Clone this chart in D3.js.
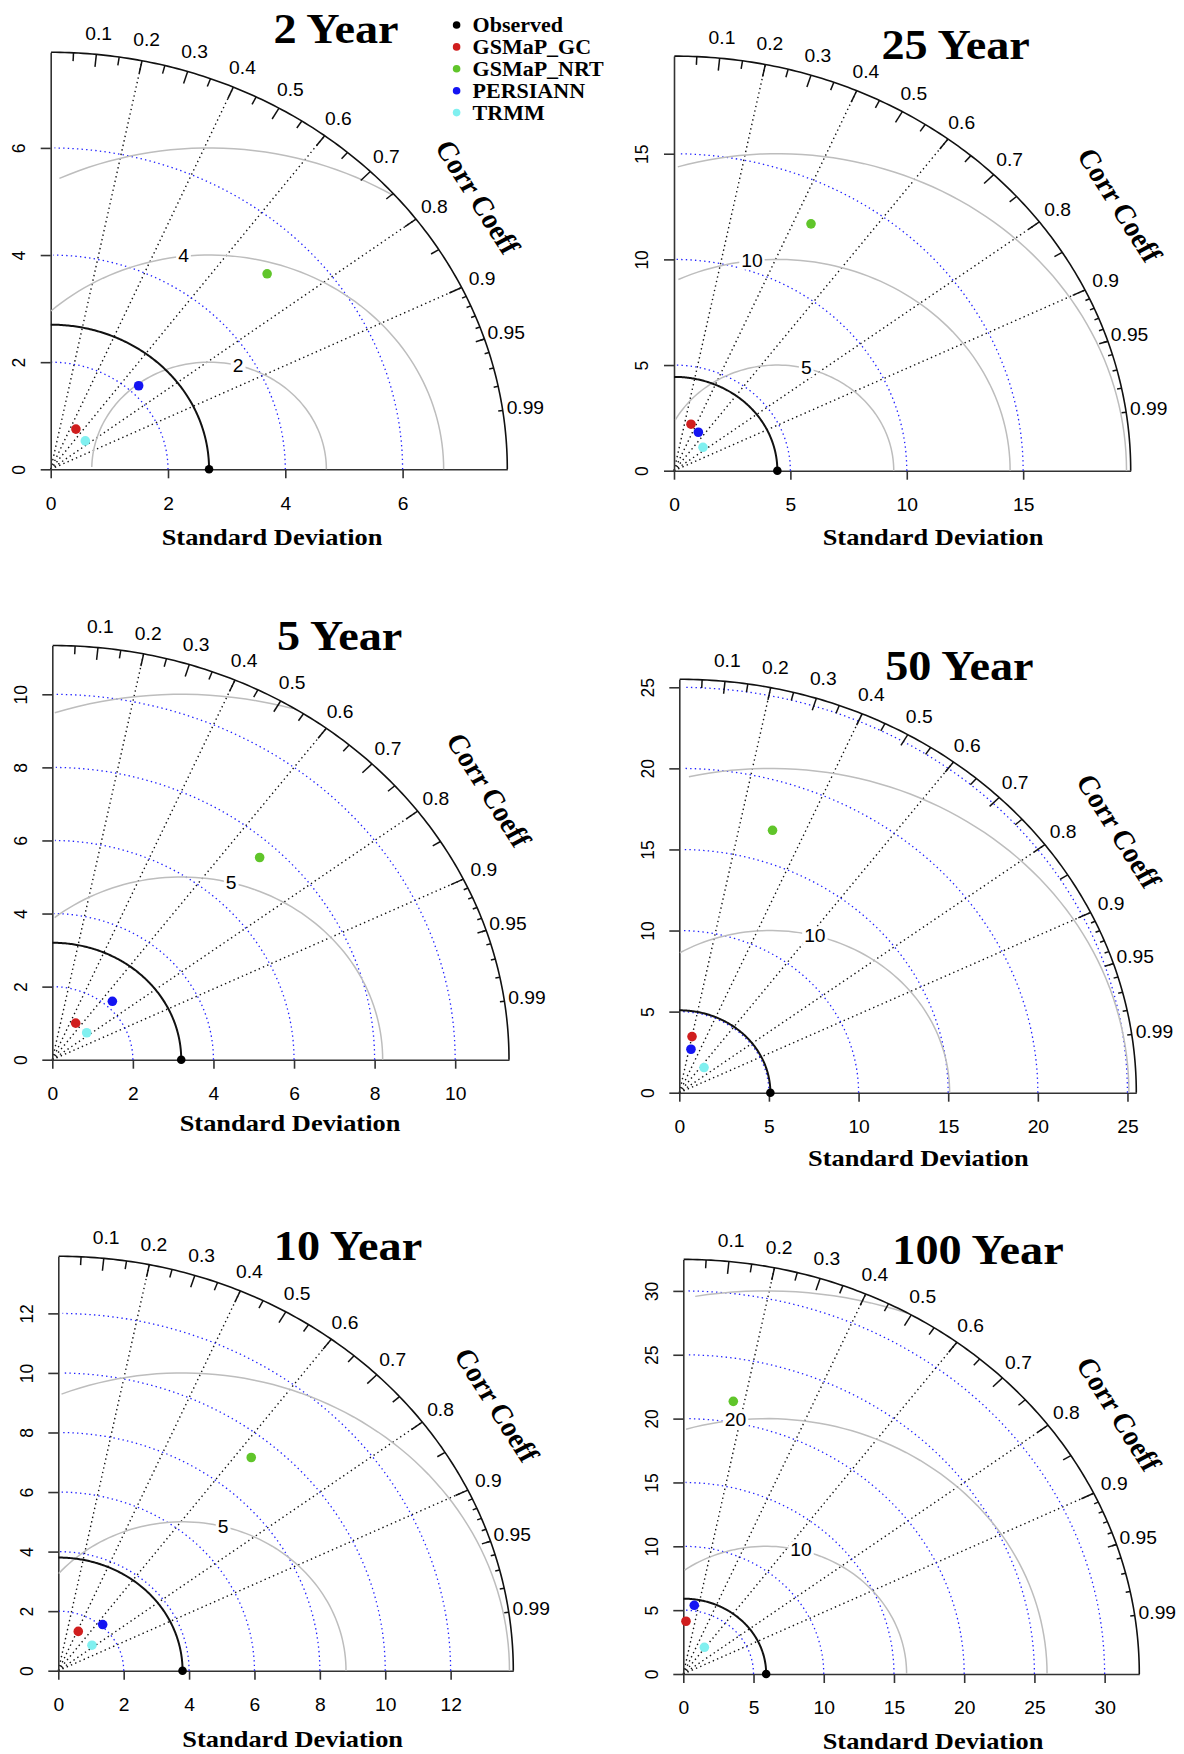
<!DOCTYPE html>
<html>
<head>
<meta charset="utf-8">
<script src="https://cdnjs.cloudflare.com/ajax/libs/d3/7.8.5/d3.min.js"></script>
<style>
  body { margin: 0; background: #fff; }
  svg { display: block; }
  .serif { font-family: "Liberation Serif", "Times New Roman", serif; font-weight: bold; }
  .sans { font-family: "Liberation Sans", Arial, sans-serif; }
</style>
</head>
<body>
<div id="chart"></div>
<script>
// one Taylor diagram per return period
var periods = ["2 Year", "25 Year", "5 Year", "50 Year", "10 Year", "100 Year"];

// reference (observed) standard deviation
var obsSD = [2.70, 4.44, 3.20, 5.08, 3.80, 5.90];

// products: standard deviation and correlation with observed
var gcSD = [0.865, 2.318, 1.156, 3.532, 1.454, 4.134];
var gcCor = [0.497, 0.315, 0.502, 0.201, 0.420, 0.046];
var nrtSD = [5.19, 13.08, 7.557, 16.995, 9.278, 21.645];
var nrtCor = [0.711, 0.450, 0.681, 0.306, 0.636, 0.1645];
var persSD = [2.164, 2.099, 2.186, 2.758, 2.060, 5.436];
var persCor = [0.693, 0.498, 0.682, 0.236, 0.659, 0.1435];
var trmmSD = [0.793, 1.667, 1.128, 2.075, 1.339, 2.573];
var trmmCor = [0.744, 0.747, 0.757, 0.665, 0.769, 0.583];

var seriesNames = ["Observed", "GSMaP_GC", "GSMaP_NRT", "PERSIANN", "TRMM"];

// axis ticks (sd) and centred RMS levels for each panel
var sdTicks = [[0, 2, 4, 6], [0, 5, 10, 15], [0, 2, 4, 6, 8, 10],
               [0, 5, 10, 15, 20, 25], [0, 2, 4, 6, 8, 10, 12], [0, 5, 10, 15, 20, 25, 30]];
var rmsLevels = [[2, 4, 6], [5, 10, 15], [5, 10], [10, 20], [5, 10], [10, 20, 30]];

// correlation scale on the outer arc
var corrLabels = [0.1, 0.2, 0.3, 0.4, 0.5, 0.6, 0.7, 0.8, 0.9, 0.95, 0.99];
var corrLines = [0.2, 0.4, 0.6, 0.8, 0.9];
var bigTicks = [0.1, 0.2, 0.3, 0.4, 0.5, 0.6, 0.7, 0.8, 0.9];
var medTicks = [0.05, 0.15, 0.25, 0.35, 0.45, 0.55, 0.65, 0.75, 0.85, 0.95];
var smlTicks = [0.91, 0.92, 0.93, 0.94, 0.95, 0.96, 0.97, 0.98, 0.99];

var colors = ["#000000", "#d01e1e", "#60c52a", "#1414f2", "#80f0f0"];

// where each panel sits on the page (origin, outer radius in px, title, x label, "Corr Coeff")
var layout = [
    {ox: 50.7, oy: 469.3, rx: 456.6, ry: 417, title: [336, 43], xlab: [272, 545], cc: [478, 197]},
    {ox: 674, oy: 470.7, rx: 456.7, ry: 414.6, title: [955.6, 59], xlab: [933, 545], cc: [1120, 205]},
    {ox: 52.3, oy: 1059.7, rx: 456.7, ry: 414.2, title: [339.6, 650], xlab: [290, 1131], cc: [489, 790]},
    {ox: 679.3, oy: 1092.7, rx: 457, ry: 413.4, title: [959.4, 680], xlab: [918.3, 1166], cc: [1119, 831]},
    {ox: 58.3, oy: 1670.7, rx: 455, ry: 414.4, title: [348, 1260], xlab: [292.7, 1747], cc: [497, 1405]},
    {ox: 683.3, oy: 1674, rx: 456, ry: 414.6, title: [978, 1263.5], xlab: [933, 1749], cc: [1119, 1414]}
];

var XS = 1.1; // the figure is a bit wider than tall, text too

var svg = d3.select("#chart").append("svg")
    .attr("width", 1184)
    .attr("height", 1754);

function stext(parent, tx, ty, str, cls, size) {
    return parent.append("text")
        .attr("class", cls)
        .attr("transform", "translate(" + tx + "," + ty + ") scale(" + XS + ",1)")
        .attr("font-size", size)
        .attr("text-anchor", "middle")
        .text(str);
}

periods.forEach(function(name, i) {
    var L = layout[i];
    var sdr = obsSD[i];
    var models = [
        {sd: gcSD[i], cor: gcCor[i], color: colors[1]},
        {sd: nrtSD[i], cor: nrtCor[i], color: colors[2]},
        {sd: persSD[i], cor: persCor[i], color: colors[3]},
        {sd: trmmSD[i], cor: trmmCor[i], color: colors[4]}
    ];
    // plotrix rule: outer radius = 1.5 * largest sd
    var maxsd = 1.5 * Math.max(sdr, d3.max(models, function(d) { return d.sd; }));

    var x = d3.scaleLinear().domain([0, maxsd]).range([L.ox, L.ox + L.rx]);
    var y = d3.scaleLinear().domain([0, maxsd]).range([L.oy, L.oy - L.ry]);
    var line = d3.line()
        .x(function(d) { return x(d[0]); })
        .y(function(d) { return y(d[1]); });

    var g = svg.append("g").attr("class", "panel");

    // correlation rays
    g.append("g").selectAll("path")
        .data(corrLines)
        .enter().append("path")
        .attr("d", function(c) { return line([[0, 0], [maxsd * c, maxsd * Math.sqrt(1 - c * c)]]); })
        .attr("fill", "none")
        .attr("stroke", "#111")
        .attr("stroke-width", 1.4)
        .attr("stroke-dasharray", "1.4,3.2");

    // axes
    var ticks = sdTicks[i];
    var xAxis = g.append("g")
        .attr("transform", "translate(0," + L.oy + ")")
        .call(d3.axisBottom(x).tickValues(ticks).tickSize(9).tickSizeOuter(0).tickPadding(19)
            .tickFormat(d3.format("~g")));
    var yAxis = g.append("g")
        .attr("transform", "translate(" + L.ox + ",0)")
        .call(d3.axisLeft(y).tickValues(ticks).tickSize(10).tickSizeOuter(0)
            .tickFormat(d3.format("~g")));
    [xAxis, yAxis].forEach(function(ax) {
        ax.attr("font-family", null).attr("font-size", null);
        ax.selectAll("path, line").attr("stroke", "#333").attr("stroke-width", 1.6);
        ax.selectAll("text").attr("class", "sans").attr("font-size", 17.5).attr("fill", "#000");
    });
    xAxis.selectAll("text").attr("transform", "scale(" + XS + ",1)");
    yAxis.selectAll("text")
        .attr("x", 0).attr("dy", 0)
        .attr("text-anchor", "middle")
        .attr("transform", "translate(-25.7,0) scale(" + XS + ",1) rotate(-90)");

    // sd arcs (blue dotted)
    var quarter = d3.range(0, Math.PI / 2, 0.03);
    g.append("g").selectAll("path")
        .data(ticks.filter(function(t) { return t > 0; }))
        .enter().append("path")
        .attr("d", function(r) { return line(quarter.map(function(t) { return [r * Math.cos(t), r * Math.sin(t)]; })); })
        .attr("fill", "none")
        .attr("stroke", "#2020ff")
        .attr("stroke-width", 1.3)
        .attr("stroke-dasharray", "1.4,3.2");

    // centred RMS arcs round the observed point
    var half = d3.range(0, Math.PI, 0.03);
    var gam = rmsLevels[i];
    var gLabels = [];
    gam.forEach(function(r, k) {
        var pts = half.map(function(t) { return [sdr + r * Math.cos(t), r * Math.sin(t)]; });
        var end = pts.findIndex(function(p) { return p[0] < 0; });
        if (end < 0) end = pts.length;
        var start = 0;
        pts.forEach(function(p, j) { if (p[0] * p[0] + p[1] * p[1] > maxsd * maxsd) start = j + 1; });
        g.append("path")
            .attr("d", line(pts.slice(start, end)))
            .attr("fill", "none")
            .attr("stroke", "#bdbdbd")
            .attr("stroke-width", 1.5);
        var pos = gam.length > 1 ? 45 + k * 25 / (gam.length - 1) : 45;
        var p = pts[Math.floor(pos) - 1];
        if (p[0] > 0) gLabels.push({r: r, p: p});
    });

    // outer correlation arc + its ticks
    g.append("path")
        .attr("d", line(d3.range(0, Math.PI / 2, 0.01).map(function(t) { return [maxsd * Math.cos(t), maxsd * Math.sin(t)]; })))
        .attr("fill", "none")
        .attr("stroke", "#111")
        .attr("stroke-width", 1.6);
    [[bigTicks, 0.97], [medTicks, 0.98], [smlTicks, 0.99]].forEach(function(set) {
        g.append("g").selectAll("path")
            .data(set[0])
            .enter().append("path")
            .attr("d", function(c) {
                var s = Math.sqrt(1 - c * c);
                return line([[maxsd * c, maxsd * s], [set[1] * maxsd * c, set[1] * maxsd * s]]);
            })
            .attr("stroke", "#111")
            .attr("stroke-width", 1.5);
    });

    // reference sd arc
    g.append("path")
        .attr("d", line(d3.range(0, Math.PI / 2, 0.01).map(function(t) { return [sdr * Math.cos(t), sdr * Math.sin(t)]; })))
        .attr("fill", "none")
        .attr("stroke", "#111")
        .attr("stroke-width", 2);

    // correlation labels
    corrLabels.forEach(function(c) {
        var s = Math.sqrt(1 - c * c);
        stext(g, x(1.05 * maxsd * c), y(1.05 * maxsd * s), String(c), "sans", 17.5)
            .attr("dy", "0.35em")
            .attr("fill", "#000");
    });

    // RMS labels on a white box
    gLabels.forEach(function(d) {
        var t = stext(g, x(d.p[0]), y(d.p[1]), String(d.r), "sans", 17.5)
            .attr("dy", "0.35em")
            .attr("fill", "#000");
        var b = t.node().getBBox();
        g.insert("rect", function() { return t.node(); })
            .attr("x", x(d.p[0]) - (b.width * XS) / 2 - 2)
            .attr("y", y(d.p[1]) - 9)
            .attr("width", b.width * XS + 4)
            .attr("height", 18)
            .attr("fill", "#fff");
    });

    // axis caption, title and "Corr Coeff"
    stext(g, L.xlab[0], L.xlab[1], "Standard Deviation", "serif", 24);
    stext(g, L.title[0], L.title[1], name, "serif", 42);
    g.append("text")
        .attr("class", "serif")
        .attr("font-size", 27)
        .attr("text-anchor", "middle")
        .attr("dy", "0.35em")
        .attr("transform", "translate(" + L.cc[0] + "," + L.cc[1] + ") scale(" + XS + ",1) rotate(60)")
        .text("Corr Coeff");

    // observed point and products
    g.append("circle")
        .attr("cx", x(sdr))
        .attr("cy", y(0))
        .attr("r", 4.3)
        .attr("fill", colors[0]);
    g.append("g").selectAll("circle")
        .data(models)
        .enter().append("circle")
        .attr("cx", function(d) { return x(d.sd * d.cor); })
        .attr("cy", function(d) { return y(d.sd * Math.sqrt(1 - d.cor * d.cor)); })
        .attr("r", 4.8)
        .attr("fill", function(d) { return d.color; });

    // legend only on the first panel
    if (i === 0) {
        var leg = svg.append("g").attr("class", "legend");
        seriesNames.forEach(function(s, k) {
            var cy = 25 + k * 21.9;
            leg.append("circle")
                .attr("cx", 456.6)
                .attr("cy", cy)
                .attr("r", 3.8)
                .attr("fill", colors[k]);
            stext(leg, 472.6, cy + 7, s, "serif", 20).attr("text-anchor", "start");
        });
    }
});
</script>
</body>
</html>
